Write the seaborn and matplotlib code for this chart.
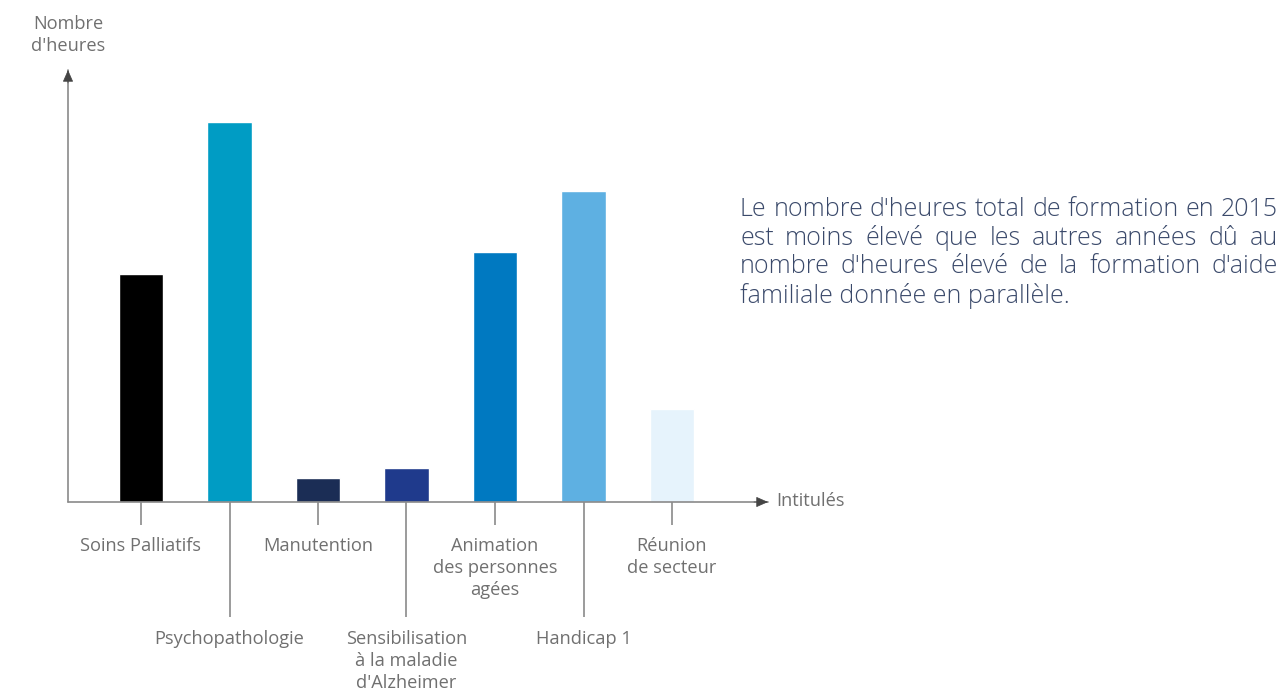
import matplotlib
matplotlib.use("Agg")
import matplotlib.pyplot as plt
import seaborn as sns
import pandas as pd

categories = ["Soins Palliatifs", "Psychopathologie", "Manutention",
              "Sensibilisation\nà la maladie\nd'Alzheimer", "Animation\ndes personnes\nagées",
              "Handicap 1", "Réunion\nde secteur"]
hours = [228, 380, 24, 34, 250, 311, 93]
colors = ["#000000", "#009cc4", "#1b2d55", "#1f3a8c", "#0079c1", "#5eb0e2", "#e6f3fc"]
y_title = "Nombre\nd'heures"
x_title = "Intitulés"
note_lines = ["Le nombre d'heures total de formation en 2015",
              "est moins élevé que les autres années dû au",
              "nombre d'heures élevé de la formation d'aide",
              "familiale donnée en parallèle."]

sns.set_style("white")
FONT = ['Open Sans', 'DejaVu Sans']
plt.rcParams['font.family'] = FONT
plt.rcParams['font.weight'] = 'normal'

W, H = 1281, 693
fig = plt.figure(figsize=(W / 100, H / 100), dpi=100)
renderer = fig.canvas.get_renderer()

def width(t, fs, weight="normal"):
    tt = fig.text(0, 0, t, fontsize=fs, fontweight=weight)
    w = tt.get_window_extent(renderer).width
    tt.remove()
    return w

# font sizes fitted to the reference text widths
lab_fs = 10 * 122 / width("Soins Palliatifs", 10)
note_fs = 10 * 328 / width(note_lines[-1], 10, "light")

ax_l, ax_r, ax_b, ax_t = 68, 768, 502, 70
ax = fig.add_axes([ax_l / W, 1 - ax_b / H, (ax_r - ax_l) / W, (ax_b - ax_t) / H])

df = pd.DataFrame({"cat": categories, "h": hours})
sns.barplot(data=df, x="cat", y="h", hue="cat", palette=colors, legend=False,
            width=0.5, saturation=1, ax=ax)
spacing = 88.5
ax.set_xlim((ax_l - 141) / spacing, (ax_r - 141) / spacing)
ax.set_ylim(0, ax_b - ax_t)
for s in ax.spines.values():
    s.set_visible(False)
ax.set_xticks([])
ax.set_yticks([])
ax.set_xlabel("")
ax.set_ylabel("")

axis_col = "#8a8a8a"
label_col = "#707070"
for xy in [(1, 0), (0, 1)]:
    ax.annotate("", xy=xy, xytext=(0, 0), xycoords="axes fraction",
                arrowprops=dict(arrowstyle="-", color=axis_col, lw=1.2,
                                shrinkA=0, shrinkB=0))
    ax.annotate("", xy=xy, xytext=(xy[0] * 0.98, xy[1] * 0.97), xycoords="axes fraction",
                arrowprops=dict(arrowstyle="-|>,head_length=0.75,head_width=0.33",
                                color="#444444", lw=0.5, shrinkA=0, shrinkB=0,
                                mutation_scale=10))

for i, lab in enumerate(categories):
    long = (i % 2 == 1)
    end = -115 if long else -23
    ax.plot([i, i], [0, end], color=axis_col, lw=1.2, clip_on=False, solid_capstyle="butt")
    ty = -35 if not long else -128
    ax.text(i, ty, lab, ha="center", va="top", fontsize=lab_fs, color=label_col,
            linespacing=1.3, clip_on=False)

fig.text(68 / W, 1 - 35 / H, y_title, ha="center", va="center", fontsize=lab_fs,
         color=label_col, linespacing=1.3)
fig.text(776 / W, 1 - 501 / H, x_title, ha="left", va="center", fontsize=lab_fs,
         color=label_col)

# justified note
note_col = "#3b4a6b"
x0, x1 = 740, 1278
line_y = [210, 238.5, 267, 296]
for k, line in enumerate(note_lines):
    y = 1 - line_y[k] / H
    if k == len(note_lines) - 1:
        fig.text(x0 / W, y, line, ha="left", va="center", fontsize=note_fs,
                 color=note_col, fontweight="light")
        continue
    words = line.split(" ")
    ws = [width(w, note_fs, "light") for w in words]
    gap = (x1 - x0 - sum(ws)) / (len(words) - 1)
    x = x0
    for w, wd in zip(words, ws):
        fig.text(x / W, y, w, ha="left", va="center", fontsize=note_fs,
                 color=note_col, fontweight="light")
        x += wd + gap

fig.savefig("out.png", dpi=100)
